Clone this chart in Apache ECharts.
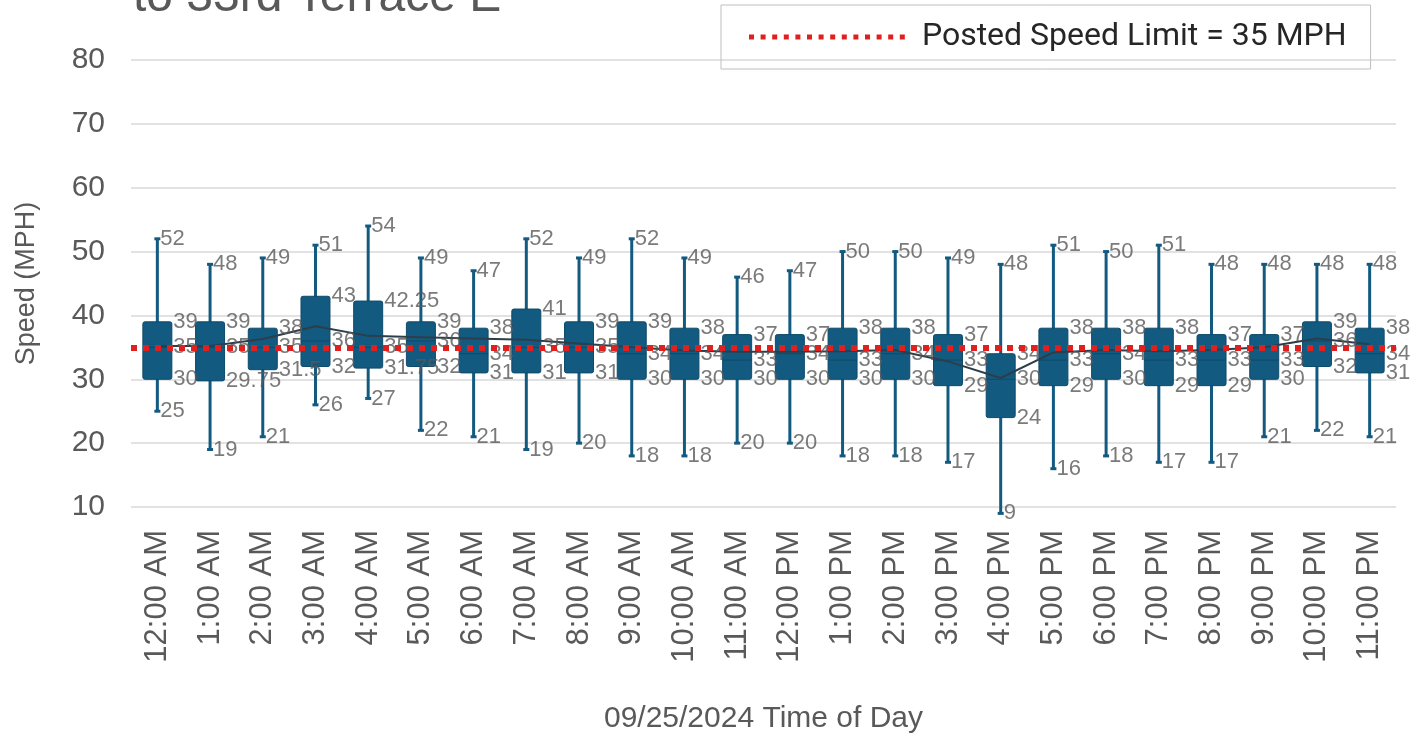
<!DOCTYPE html>
<html>
<head>
<meta charset="utf-8">
<script src="https://cdn.jsdelivr.net/npm/echarts@6/dist/echarts.min.js"></script>
<style>
  html, body { margin: 0; padding: 0; background: #fff; }
  #chart { width: 1414px; height: 738px; }
</style>
</head>
<body>
<div id="chart"></div>
<script>
// hourly speed distribution
const hours = ['12:00 AM', '1:00 AM', '2:00 AM', '3:00 AM', '4:00 AM', '5:00 AM', '6:00 AM', '7:00 AM',
  '8:00 AM', '9:00 AM', '10:00 AM', '11:00 AM', '12:00 PM', '1:00 PM', '2:00 PM', '3:00 PM',
  '4:00 PM', '5:00 PM', '6:00 PM', '7:00 PM', '8:00 PM', '9:00 PM', '10:00 PM', '11:00 PM'];
const minVals = [25, 19, 21, 26, 27, 22, 21, 19, 20, 18, 18, 20, 20, 18, 18, 17, 9, 16, 18, 17, 17, 21, 22, 21];
const q1Vals = [30, 29.75, 31.5, 32, 31.75, 32, 31, 31, 31, 30, 30, 30, 30, 30, 30, 29, 24, 29, 30, 29, 29, 30, 32, 31];
const medianVals = [35, 35, 35, 36, 35, 36, 34, 35, 35, 34, 34, 33, 34, 33, 34, 33, 30, 33, 34, 33, 33, 33, 36, 34];
const q3Vals = [39, 39, 38, 43, 42.25, 39, 38, 41, 39, 39, 38, 37, 37, 38, 38, 37, 34, 38, 38, 38, 37, 37, 39, 38];
const maxVals = [52, 48, 49, 51, 54, 49, 47, 52, 49, 52, 49, 46, 47, 50, 50, 49, 48, 51, 50, 51, 48, 48, 48, 48];
const meanVals = [35.2, 35.2, 36.3, 38.3, 36.8, 36.6, 36.4, 36.2, 35.6, 35.0, 34.5, 34.3, 34.3, 34.4, 34.6, 32.8,
  30.2, 34.2, 34.6, 34.4, 34.6, 35.0, 36.4, 35.5];
const speedLimit = 35;
const yTicks = { min: 10, max: 80, step: 10 };

const boxColor = '#135a80';
const labelColor = '#595959';
const limitColor = '#e0201e';
const limitName = 'Posted Speed Limit = 35 MPH';
const baseFont = 'Liberation Sans, Arial, sans-serif';

// dotted legend swatch: a row of small squares
let dotPath = 'path://';
for (let i = 0; i < 14; i++) {
  dotPath += 'M' + (i * 11.6) + ',0h5v5h-5z';
}

const chart = echarts.init(document.getElementById('chart'));

function renderBox(params, api) {
  const x = api.value(0);
  const pMin = api.coord([x, api.value(1)]);
  const pQ1 = api.coord([x, api.value(2)]);
  const pMed = api.coord([x, api.value(3)]);
  const pQ3 = api.coord([x, api.value(4)]);
  const pMax = api.coord([x, api.value(5)]);
  const half = api.size([1, 0])[0] * 0.275;
  const cx = pMin[0];
  const line = { stroke: boxColor, lineWidth: 3 };
  return {
    type: 'group',
    children: [
      { type: 'line', shape: { x1: cx, y1: pMax[1], x2: cx, y2: pMin[1] }, style: line },
      { type: 'line', shape: { x1: cx - 3, y1: pMax[1], x2: cx + 3, y2: pMax[1] }, style: line },
      { type: 'line', shape: { x1: cx - 3, y1: pMin[1], x2: cx + 3, y2: pMin[1] }, style: line },
      {
        type: 'rect',
        shape: { x: cx - half, y: pQ3[1], width: half * 2, height: pQ1[1] - pQ3[1], r: 2 },
        style: { fill: boxColor, stroke: '#0e4a6a', lineWidth: 1 }
      },
      { type: 'line', shape: { x1: cx - half, y1: pMed[1], x2: cx + half, y2: pMed[1] }, style: { stroke: '#0e4a6a', lineWidth: 1 } }
    ]
  };
}

function labelSeries(values, distance) {
  return {
    type: 'scatter',
    symbolSize: 0,
    z: 4,
    silent: true,
    clip: false,
    data: values.map((v, i) => [i, v]),
    label: {
      show: true,
      position: 'right',
      distance: distance,
      color: labelColor,
      fontSize: 22,
      fontFamily: baseFont,
      formatter: p => p.value[1]
    }
  };
}

const option = {
  animation: false,
  backgroundColor: '#ffffff',
  title: {
    text: 'to 33rd Terrace E',
    left: 128,
    top: -31,
    textStyle: { fontSize: 48, fontWeight: 'normal', color: '#595959', fontFamily: baseFont }
  },
  legend: {
    data: [{ name: limitName, icon: dotPath }],
    left: 721,
    top: 5,
    padding: [16, 24, 16, 28],
    borderColor: '#bfbfbf',
    borderWidth: 1,
    itemWidth: 160,
    itemHeight: 5,
    textStyle: { fontSize: 32, color: '#262626', fontFamily: 'Roboto, sans-serif', padding: [0, 0, 0, 10] }
  },
  grid: { left: 131, right: 18, top: 60, bottom: 231, outerBoundsMode: 'none' },
  xAxis: {
    type: 'category',
    data: hours,
    axisTick: { show: false },
    axisLine: { show: false },
    axisLabel: {
      rotate: 90,
      interval: 0,
      margin: 23,
      fontSize: 31,
      color: labelColor,
      fontFamily: baseFont
    },
    name: '09/25/2024 Time of Day',
    nameLocation: 'middle',
    nameGap: 197,
    nameTextStyle: { fontSize: 30, color: labelColor, fontFamily: baseFont }
  },
  yAxis: {
    type: 'value',
    min: yTicks.min,
    max: yTicks.max,
    interval: yTicks.step,
    axisLabel: { fontSize: 30, color: labelColor, margin: 26, fontFamily: baseFont },
    splitLine: { lineStyle: { color: '#d9d9d9', width: 1.5 } },
    name: 'Speed (MPH)',
    nameLocation: 'middle',
    nameGap: 91,
    nameTextStyle: { fontSize: 27, color: labelColor, fontFamily: baseFont }
  },
  series: [
    {
      name: 'Speed',
      type: 'custom',
      renderItem: renderBox,
      z: 2,
      clip: false,
      data: hours.map((h, i) => [i, minVals[i], q1Vals[i], medianVals[i], q3Vals[i], maxVals[i]])
    },
    {
      name: 'Mean',
      type: 'line',
      z: 3,
      symbol: 'none',
      data: meanVals,
      lineStyle: { color: '#2d3e4a', width: 2 }
    },
    {
      name: limitName,
      type: 'line',
      z: 6,
      symbol: 'none',
      data: [],
      itemStyle: { color: limitColor },
      lineStyle: { color: limitColor, width: 5, type: [5, 6] },
      markLine: {
        silent: true,
        symbol: 'none',
        label: { show: false },
        lineStyle: { color: limitColor, width: 6, type: [6, 6] },
        data: [{ yAxis: speedLimit }]
      }
    },
    labelSeries(maxVals, 3),
    labelSeries(minVals, 3),
    labelSeries(q3Vals, 16),
    labelSeries(medianVals, 16),
    labelSeries(q1Vals, 16)
  ]
};

chart.setOption(option);
</script>
</body>
</html>
